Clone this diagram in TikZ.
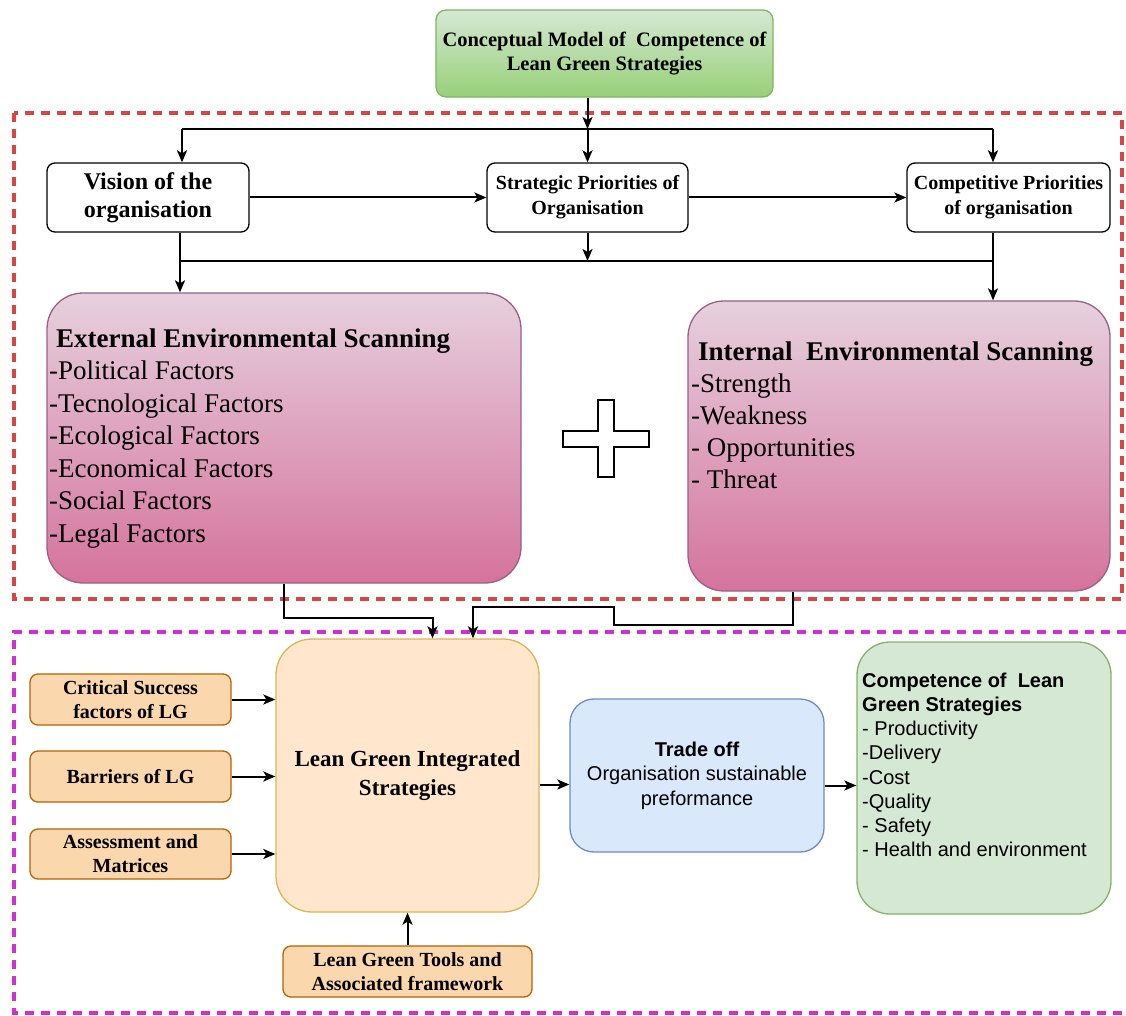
\documentclass[tikz,border=0pt]{standalone}
\usepackage{fontspec}
\setmainfont{Liberation Serif}
\setsansfont{Liberation Sans}
\usetikzlibrary{arrows.meta}

\definecolor{greenTop}{HTML}{D5E8D4}
\definecolor{greenBot}{HTML}{97D077}
\definecolor{greenLine}{HTML}{82B366}
\definecolor{pinkTop}{HTML}{E6D0DE}
\definecolor{pinkBot}{HTML}{D5739D}
\definecolor{pinkLine}{HTML}{996185}
\definecolor{tanFill}{HTML}{FAD7AC}
\definecolor{tanLine}{HTML}{B46504}
\definecolor{peachFill}{HTML}{FFE6CC}
\definecolor{peachLine}{HTML}{D6B656}
\definecolor{blueFill}{HTML}{DAE8FC}
\definecolor{blueLine}{HTML}{6C8EBF}
\definecolor{mintFill}{HTML}{D5E8D4}
\definecolor{frameRed}{HTML}{D94444}
\definecolor{frameMag}{HTML}{D030D0}

\tikzset{
  basebox/.style={draw, line width=1.3pt, inner sep=0pt, align=center},
  whitebox/.style={basebox, fill=white, rounded corners=8pt, draw=black},
  pinkbox/.style={basebox, top color=pinkTop, bottom color=pinkBot, draw=pinkLine, rounded corners=36pt},
  tanbox/.style={basebox, fill=tanFill, draw=tanLine, rounded corners=8pt,
    font=\bfseries\fontsize{20}{24}\selectfont},
  txt/.style={inner sep=0pt, align=left, anchor=north west},
  arr/.style={-{Stealth[length=12pt,width=10pt,inset=3pt]}, line width=2pt},
  wire/.style={line width=2pt},
  frame/.style={line width=3.6pt, dash pattern=on 9pt off 7pt}
}

\begin{document}
\begin{tikzpicture}[x=1pt,y=-1pt]
\useasboundingbox[fill=white] (0,0) rectangle (1126,1016);

% group frames
\draw[frame, draw=frameRed] (14,113) rectangle (1122,599);
\draw[frame, draw=frameMag] (1126,632) -- (14,632) -- (14,1013) -- (1126,1013);

% top title
\node[basebox, top color=greenTop, bottom color=greenBot, draw=greenLine,
      rounded corners=10pt, minimum width=337pt, minimum height=87pt,
      font=\bfseries\fontsize{20.5}{23.5}\selectfont]
  (title) at (604.5,53.5) {Conceptual Model of\ \ Competence of\\Lean Green Strategies};

% strategic layer
\node[whitebox, minimum width=202pt, minimum height=69pt,
      font=\bfseries\fontsize{24}{28}\selectfont]
  (vis) at (148,197.5) {Vision of the\\organisation};
\node[whitebox, minimum width=201pt, minimum height=69pt,
      font=\bfseries\fontsize{20}{25}\selectfont]
  (strat) at (587.5,197.5) {Strategic Priorities of\\Organisation};
\node[whitebox, minimum width=203pt, minimum height=69pt,
      font=\bfseries\fontsize{20}{25}\selectfont]
  (comp) at (1008.5,197.5) {Competitive Priorities\\of organisation};

% environmental scanning
\node[pinkbox, minimum width=474pt, minimum height=290pt] (ext) at (284,438) {};
\node[txt, font=\fontsize{27}{32.5}\selectfont] (exttxt) at (49,328.5)
  {{\bfseries\hspace*{7pt}External Environmental Scanning}\\
   -Political Factors\\-Tecnological Factors\\-Ecological Factors\\
   -Economical Factors\\-Social Factors\\-Legal Factors};

\node[pinkbox, minimum width=422pt, minimum height=290pt] (int) at (899,446) {};
\node[txt, font=\fontsize{27}{32}\selectfont] (inttxt) at (691,341.5)
  {{\bfseries\hspace*{7pt}Internal\ \ Environmental Scanning}\\
   -Strength\\-Weakness\\- Opportunities\\- Threat};

% plus sign between the two scans
\draw[line width=2pt, fill=white]
  (598,400) -- (614,400) -- (614,431) -- (649,431) -- (649,447) -- (614,447)
  -- (614,477) -- (598,477) -- (598,447) -- (563,447) -- (563,431) -- (598,431) -- cycle;

% lean green layer
\node[tanbox, minimum width=201pt, minimum height=51pt] (csf) at (130.5,699.5) {Critical Success\\factors of LG};
\node[tanbox, minimum width=201pt, minimum height=51pt] (bar) at (130.5,776.5) {Barriers of LG};
\node[tanbox, minimum width=201pt, minimum height=50pt] (ass) at (130.5,854) {Assessment and\\Matrices};

\node[basebox, fill=peachFill, draw=peachLine, rounded corners=36pt,
      minimum width=263pt, minimum height=273pt,
      font=\bfseries\fontsize{23}{29}\selectfont]
  (lg) at (407.5,775.5) {Lean Green Integrated\\Strategies};

\node[tanbox, minimum width=249pt, minimum height=51pt,
      font=\bfseries\fontsize{20}{23.5}\selectfont]
  (tools) at (407.5,971.5) {Lean Green Tools and\\Associated framework};

\node[basebox, fill=blueFill, draw=blueLine, rounded corners=24pt,
      minimum width=254pt, minimum height=153pt,
      font=\sffamily\fontsize{20}{24.5}\selectfont]
  (trade) at (697,775.5) {{\bfseries Trade off}\\Organisation sustainable\\preformance};

\node[basebox, fill=mintFill, draw=greenLine, rounded corners=33pt,
      minimum width=254pt, minimum height=272pt] (compet) at (984,778) {};
\node[txt, font=\sffamily\fontsize{20}{24.2}\selectfont] (comptxt) at (862,672.5)
  {{\bfseries Competence of\ \ Lean}\\{\bfseries Green Strategies}\\
   - Productivity\\-Delivery\\-Cost\\-Quality\\- Safety\\- Health and environment};

% distribution buses
\coordinate (busTop) at (587.5,129);
\coordinate (busLow) at (587.5,261);

\draw[arr] (strat.north |- title.south) -- (busTop);
\draw[wire] ([xshift=34pt]vis.north |- busTop) -- ([xshift=-15.5pt]comp.north |- busTop);
\draw[arr] ([xshift=34pt]vis.north |- busTop) -- ([xshift=34pt]vis.north);
\draw[arr] (busTop) -- (strat.north);
\draw[arr] ([xshift=-15.5pt]comp.north |- busTop) -- ([xshift=-15.5pt]comp.north);

\draw[arr] (vis.east) -- (strat.west);
\draw[arr] (strat.east) -- (comp.west);

\draw[wire] ([xshift=32pt]vis.south |- busLow) -- ([xshift=-15.5pt]comp.south |- busLow);
\draw[arr] ([xshift=32pt]vis.south) -- ([xshift=-104pt]ext.north);
\draw[arr] (strat.south) -- (busLow);
\draw[arr] ([xshift=-15.5pt]comp.south) -- ([xshift=94pt]int.north);

% scans feed the integrated strategies
\draw[arr] (ext.south) -- ++(0,34) -| ([xshift=25pt]lg.north);
\draw[arr] ([xshift=-106pt]int.south) -- ++(0,33) -- ++(-179.5,0) -- ++(0,-18)
  -| ([xshift=65.5pt]lg.north);

% inputs and outputs of the integrated strategies
\draw[arr] (csf.east) -- (csf.east -| lg.west);
\draw[arr] (bar.east) -- (bar.east -| lg.west);
\draw[arr] (ass.east) -- (ass.east -| lg.west);
\draw[arr] (tools.north) -- (lg.south);
\draw[arr] ([yshift=-9pt]lg.east) -- ([yshift=-9pt]lg.east -| trade.west);
\draw[arr] ([yshift=-10pt]trade.east) -- ([yshift=-10pt]trade.east -| compet.west);

\end{tikzpicture}
\end{document}
